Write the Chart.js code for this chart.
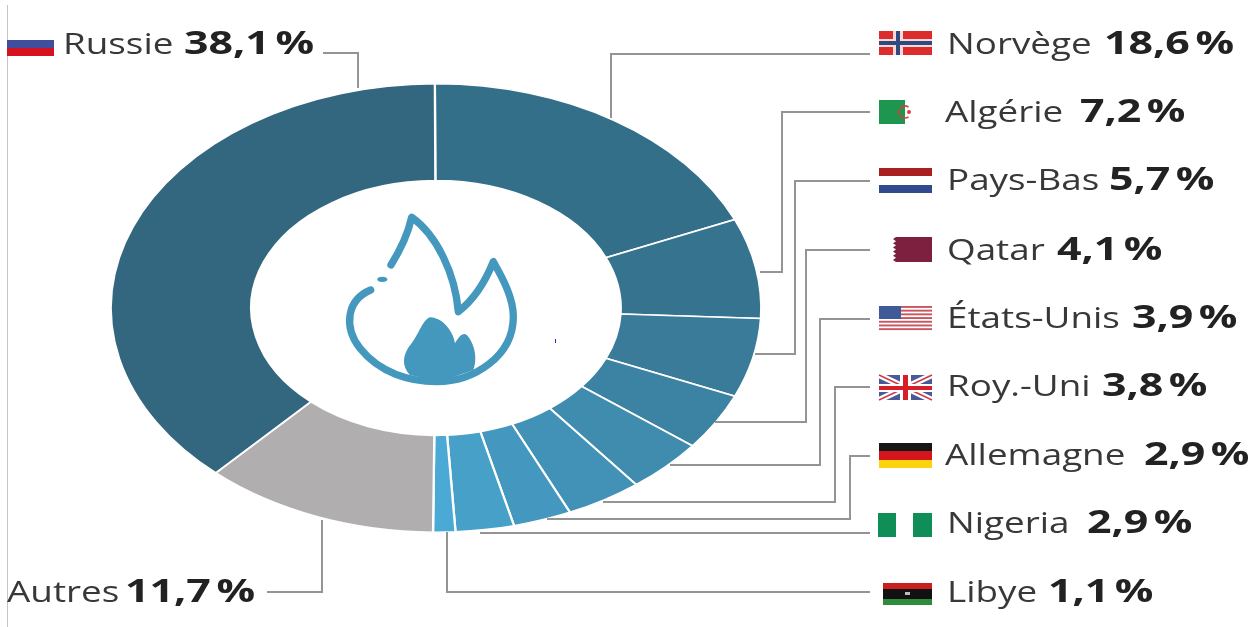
<!DOCTYPE html>
<html lang="fr">
<head>
<meta charset="UTF-8">
<title>Fournisseurs de gaz</title>
<script src="https://cdn.jsdelivr.net/npm/chart.js"></script>
<style>
    html, body { margin: 0; padding: 0; background: #fff; overflow: hidden; }
    #wrap { width: 1258px; height: 627px; }
    /* the source is a soft, upscaled scan */
    #gaz { filter: blur(0.5px); }
</style>
</head>
<body>
<div id="wrap"><canvas id="gaz" width="1258" height="627"></canvas></div>
<script>
// clockwise from 12 o'clock
const countries = ['Norvège', 'Algérie', 'Pays-Bas', 'Qatar', 'États-Unis', 'Roy.-Uni', 'Allemagne', 'Nigeria', 'Libye', 'Autres', 'Russie'];
const shares = [18.6, 7.2, 5.7, 4.1, 3.9, 3.8, 2.9, 2.9, 1.1, 11.7, 38.1];
const colors = ['#346f89', '#35738f', '#397b99', '#3c82a2', '#3f8cae', '#4291b6', '#4498bf', '#47a0c8', '#4aa9d5', '#b0aeae', '#33677f'];

// the original picture is stretched sideways, the ring is an ellipse
const RING_CX = 436, STRETCH = 325 / 224;
const NAME_STRETCH = 1.27, VALUE_STRETCH = 1.3;

// label position: name x, bold value x, baseline y
const labelPos = {
    'Norvège': [947, 1104, 54], 'Algérie': [945, 1080, 122], 'Pays-Bas': [947, 1109, 190],
    'Qatar': [947, 1057, 260], 'États-Unis': [947, 1132, 328], 'Roy.-Uni': [947, 1102, 396],
    'Allemagne': [945, 1144, 465], 'Nigeria': [947, 1087, 533], 'Libye': [947, 1048, 602],
    'Autres': [7, 125, 602], 'Russie': [63, 184, 54]
};

const leaders = [
    [[323, 53], [358, 53], [358, 88]],
    [[870, 54], [611, 54], [611, 118]],
    [[870, 112], [782, 112], [782, 272], [760, 272]],
    [[870, 181], [795, 181], [795, 354], [755, 354]],
    [[870, 250], [806, 250], [806, 422], [715, 422]],
    [[870, 319], [820, 319], [820, 465], [670, 465]],
    [[870, 387], [835, 387], [835, 502], [603, 502]],
    [[870, 456], [850, 456], [850, 519], [547, 519]],
    [[870, 533], [480, 533]],
    [[870, 592], [447, 592], [447, 532]],
    [[267, 592], [322, 592], [322, 520]]
];

function rects(ctx, list) {
    list.forEach(r => {
        ctx.fillStyle = r[4];
        ctx.fillRect(r[0], r[1], r[2], r[3]);
    });
}

function drawFlags(ctx) {
    // russia, cut off on the left
    rects(ctx, [[7, 40, 47, 8, '#3f4f9e'], [7, 48, 47, 8, '#d5121f']]);
    // norway
    rects(ctx, [[879, 31, 53, 24, '#dc2c2c'], [893, 31, 10, 24, '#f6dada'], [879, 39, 53, 8, '#f6dada'],
        [896, 31, 4, 24, '#2f4a7f'], [879, 41, 53, 4, '#2f4a7f']]);
    // algeria
    rects(ctx, [[879, 100, 26, 24, '#1f9650']]);
    ctx.strokeStyle = '#d8403c'; ctx.lineWidth = 1.5;
    ctx.beginPath(); ctx.arc(905, 112, 6, Math.PI * 0.3, Math.PI * 1.7, false); ctx.stroke();
    ctx.fillStyle = '#d8403c'; ctx.beginPath(); ctx.arc(909, 112, 2, 0, Math.PI * 2); ctx.fill();
    // netherlands
    rects(ctx, [[879, 168, 53, 8, '#a8201f'], [879, 185, 53, 8, '#2f4a8f']]);
    // qatar
    rects(ctx, [[896, 237, 36, 25, '#7d1f3f']]);
    ctx.fillStyle = '#7d1f3f';
    for (let i = 0; i < 6; i++) {
        ctx.beginPath();
        ctx.moveTo(896, 237 + i * 25 / 6);
        ctx.lineTo(893, 237 + (i + 0.5) * 25 / 6);
        ctx.lineTo(896, 237 + (i + 1) * 25 / 6);
        ctx.fill();
    }
    // usa
    for (let i = 0; i < 7; i++) {
        rects(ctx, [[879, 306 + i * 3.7, 53, 1.9, '#c8565f']]);
    }
    rects(ctx, [[879, 306, 22, 13, '#3f5a98']]);
    // uk
    rects(ctx, [[879, 375, 53, 25, '#4a5a96']]);
    ctx.lineCap = 'butt';
    ctx.strokeStyle = '#fff'; ctx.lineWidth = 6;
    ctx.beginPath(); ctx.moveTo(879, 375); ctx.lineTo(932, 400); ctx.moveTo(932, 375); ctx.lineTo(879, 400); ctx.stroke();
    ctx.strokeStyle = '#cf3a46'; ctx.lineWidth = 1.5;
    ctx.beginPath(); ctx.moveTo(879, 375); ctx.lineTo(932, 400); ctx.moveTo(932, 375); ctx.lineTo(879, 400); ctx.stroke();
    rects(ctx, [[879, 384, 53, 8, '#fff'], [900, 375, 11, 25, '#fff'], [879, 386, 53, 4, '#d5202a'], [903, 375, 5, 25, '#d5202a']]);
    // germany
    rects(ctx, [[879, 443, 53, 8, '#161616'], [879, 451, 53, 9, '#d4161c'], [879, 460, 53, 8, '#fbd30f']]);
    // nigeria
    rects(ctx, [[878, 513, 18, 24, '#0f8f57'], [913, 513, 19, 24, '#0f8f57']]);
    // libya
    rects(ctx, [[883, 583, 49, 6, '#c8201f'], [883, 589, 49, 10, '#111'], [883, 599, 49, 6, '#2c8c3c']]);
    rects(ctx, [[905, 592, 5, 3, '#bbb']]);
}

function drawFlame(ctx) {
    ctx.save();
    ctx.translate(330, 200);
    ctx.scale(1 / 3, 1 / 3); // traced on a 3x crop
    ctx.strokeStyle = '#4497bd';
    ctx.fillStyle = '#4497bd';
    ctx.lineWidth = 22;
    ctx.lineCap = 'round';
    ctx.lineJoin = 'round';
    ctx.beginPath();
    ctx.moveTo(122, 270);
    ctx.bezierCurveTo(50, 300, 40, 380, 90, 445);
    ctx.bezierCurveTo(150, 520, 240, 545, 320, 545);
    ctx.bezierCurveTo(430, 545, 550, 470, 550, 350);
    ctx.bezierCurveTo(550, 290, 515, 230, 490, 185);
    ctx.quadraticCurveTo(450, 285, 385, 335);
    ctx.bezierCurveTo(375, 220, 320, 105, 245, 52);
    ctx.quadraticCurveTo(230, 120, 183, 195);
    ctx.stroke();
    ctx.beginPath();
    ctx.ellipse(157, 238, 15, 8, 0, 0, Math.PI * 2);
    ctx.fill();
    ctx.beginPath();
    ctx.moveTo(240, 525);
    ctx.bezierCurveTo(215, 500, 215, 465, 245, 430);
    ctx.bezierCurveTo(265, 405, 280, 355, 302, 352);
    ctx.bezierCurveTo(340, 355, 370, 395, 375, 430);
    ctx.bezierCurveTo(385, 410, 400, 395, 410, 405);
    ctx.bezierCurveTo(430, 425, 445, 470, 430, 510);
    ctx.lineTo(330, 545);
    ctx.closePath();
    ctx.fill();
    ctx.restore();
}

function stretchedText(ctx, str, x, y, font, color, stretch) {
    ctx.save();
    ctx.translate(x, y);
    ctx.scale(stretch, 1);
    ctx.font = font;
    ctx.fillStyle = color;
    ctx.textAlign = 'left';
    ctx.textBaseline = 'alphabetic';
    ctx.fillText(str, 0, 0);
    ctx.restore();
}

function valueLabel(v) {
    return v.toFixed(1).replace('.', ',') + '\u202f%';
}

// squeeze the round doughnut into the ellipse of the original
const ellipsePlugin = {
    id: 'ellipse',
    beforeDatasetsDraw(chart) {
        const ctx = chart.ctx;
        ctx.save();
        ctx.translate(RING_CX, 0);
        ctx.scale(STRETCH, 1);
        ctx.translate(-RING_CX, 0);
    },
    afterDatasetsDraw(chart) {
        chart.ctx.restore();
    }
};

const decorPlugin = {
    id: 'decor',
    afterDraw(chart) {
        const ctx = chart.ctx;
        ctx.save();
        // thin rule on the left edge of the scan
        ctx.strokeStyle = '#c4c4c4';
        ctx.lineWidth = 1;
        ctx.beginPath();
        ctx.moveTo(7.5, 5);
        ctx.lineTo(7.5, 627);
        ctx.stroke();

        ctx.strokeStyle = '#949494';
        ctx.lineWidth = 2;
        leaders.forEach(path => {
            ctx.beginPath();
            path.forEach((p, i) => i ? ctx.lineTo(p[0], p[1]) : ctx.moveTo(p[0], p[1]));
            ctx.stroke();
        });

        drawFlags(ctx);
        drawFlame(ctx);

        countries.forEach((name, i) => {
            const pos = labelPos[name];
            stretchedText(ctx, name, pos[0], pos[2], '400 29px "Open Sans"', '#383838', NAME_STRETCH);
            stretchedText(ctx, valueLabel(shares[i]), pos[1], pos[2], '700 33px "Open Sans"', '#222', VALUE_STRETCH);
        });
        // small stray mark in the source
        ctx.fillStyle = '#2a2acc';
        ctx.fillRect(555, 339, 1, 4);
        ctx.restore();
    }
};

new Chart(document.getElementById('gaz'), {
    type: 'doughnut',
    data: {
        labels: countries,
        datasets: [{
            data: shares,
            backgroundColor: colors,
            borderColor: '#fff',
            borderWidth: 1.6
        }]
    },
    options: {
        responsive: false,
        animation: false,
        rotation: -0.2,
        cutout: '56.8%',
        layout: { padding: { left: 211, right: 597, top: 83, bottom: 94 } },
        plugins: { legend: { display: false }, tooltip: { enabled: false } }
    },
    plugins: [ellipsePlugin, decorPlugin]
});
</script>
</body>
</html>
